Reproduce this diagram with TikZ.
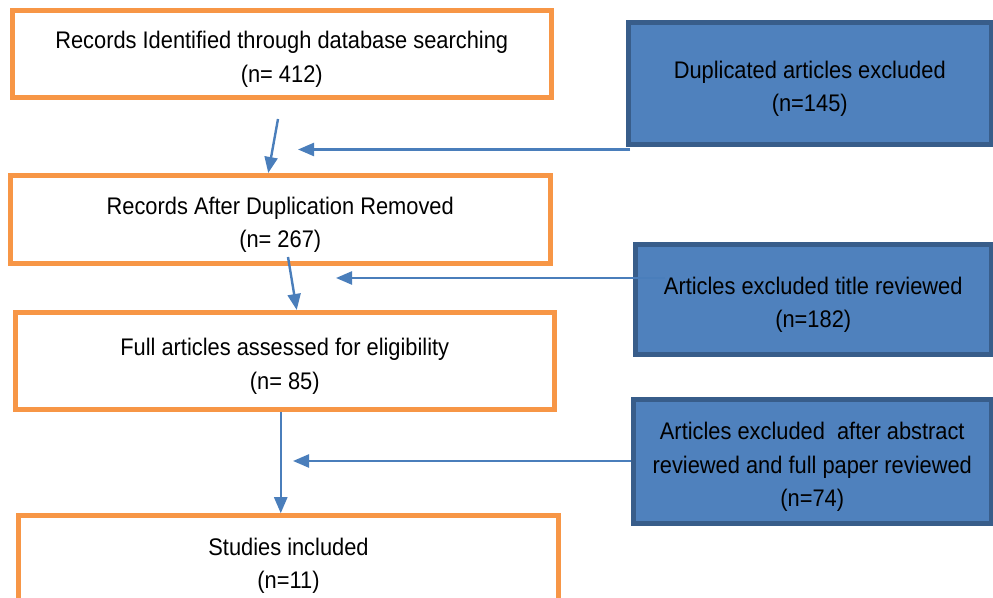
\documentclass[tikz,border=0pt]{standalone}
\usepackage{fontspec}
\setmainfont{Liberation Sans}[FakeStretch=0.91]
\usetikzlibrary{arrows.meta}

\definecolor{stageorange}{HTML}{F79646}
\definecolor{exclblue}{HTML}{4F81BD}
\definecolor{exclline}{HTML}{385D8A}
\definecolor{arrowblue}{HTML}{4A7EBB}

% lines of a box, set a little low as in the picture
\newcommand{\boxlines}[1]{%
	\raisebox{-2.5pt}[\height][\depth]{\begin{tabular}{@{}c@{}}#1\end{tabular}}%
}

\begin{document}
\begin{tikzpicture}[x=0.5pt, y=-0.5pt,
	boxtext/.style={inner sep=0pt, font=\fontsize{12}{16.75}\selectfont},
	stage/.style={boxtext, draw=stageorange, line width=2.5pt, fill=white},
	excl/.style={boxtext, draw=exclline, line width=2.5pt, fill=exclblue},
	arr/.style={arrowblue, line width=1.2pt, -{Triangle[length=8pt,width=6.5pt]}}]

\clip (0,0) rectangle (993,598);

% STAGES
\node [stage, minimum width=269.75pt, minimum height=43.5pt] (rec) at (281.75,54)
	{\boxlines{Records Identified through database searching\\(n= 412)}};
\node [stage, minimum width=270.25pt, minimum height=44pt] (dedup) at (280.25,219.5)
	{\boxlines{Records After Duplication Removed\\(n= 267)}};
\node [stage, minimum width=269.75pt, minimum height=48.5pt] (full) at (284.75,361)
	{\boxlines{Full articles assessed for eligibility\\(n= 85)}};
\node [stage, minimum width=270pt, minimum height=44.5pt] (incl) at (288.5,560.25)
	{\boxlines{Studies included\\(n=11)}};

% EXCLUSIONS
\node [excl, minimum width=181.25pt, minimum height=61pt] (dup) at (809.75,83.5)
	{\boxlines{Duplicated articles excluded\\(n=145)}};
\node [excl, minimum width=177.75pt, minimum height=55pt] (title) at (813.25,299.5)
	{\boxlines{Articles excluded title reviewed\\(n=182)}};
\node [excl, minimum width=178.75pt, minimum height=62pt] (abstr) at (812.25,461.5)
	{\boxlines{Articles excluded~ after abstract\\reviewed and full paper reviewed\\(n=74)}};

% FREE ENDS
\coordinate (s1) at (278,119);
\coordinate (s2) at (288,257);
\coordinate (e1) at (298,149.5);
\coordinate (e2) at (336,278);
\coordinate (e3) at (293,461);

% ARROWS
\draw [arr] (s1) -- ([xshift=-6pt]dedup.north);
\draw [arr] (s2) -- ([xshift=6pt]full.north);
\draw [arr] ([xshift=-2pt]full.south) -- ([xshift=-2pt]full.south |- incl.north);

\draw [arr] ([xshift=2pt]e1 -| dup.west) -- (e1);
\draw [arr] ([xshift=16pt]e2 -| title.west) -- (e2);
\draw [arr] (e3 -| abstr.west) -- (e3);

\end{tikzpicture}
\end{document}
